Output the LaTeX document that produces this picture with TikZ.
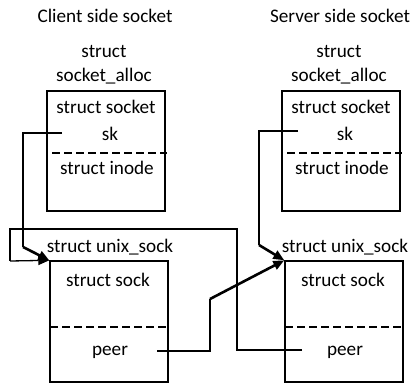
\documentclass[tikz,border=0pt]{standalone}
\usepackage{fontspec}
\setmainfont{Carlito}
\usepackage{tikz}
\usetikzlibrary{positioning, arrows.meta}

\begin{document}
\begin{tikzpicture}[x=1pt, y=-1pt,
  lbl/.style={inner sep=0pt, font=\fontsize{19.2}{24}\selectfont, align=center},
  sbox/.style={draw, line width=1.4pt, minimum width=118, minimum height=120, inner sep=0pt},
  sep/.style={dash pattern=on 8pt off 4pt, line width=2pt},
  ptr/.style={line width=1.3pt},
  tip/.style={line width=2.6pt, -{Triangle[length=11pt,width=9pt]}}
]
  \useasboundingbox (0,0) rectangle (414,383);
  \foreach \x/\s/\ttl in {0/c/Client, 235/s/Server}{
    \node[lbl] (\s-title) at (\x+105,16) {\ttl\ side socket};
    \node[lbl] (\s-allocname) at (\x+104,65) {struct\\socket\_alloc};
    \node[sbox] (\s-alloc) at (\x+106,151) {};
    \node[lbl] (\s-socket) at (\x+106,107) {struct socket};
    \node[lbl] (\s-sk) at (\x+110,134) {sk};
    \node[lbl] (\s-inode) at (\x+107,168) {struct inode};
    \draw[sep] (\x+52,153) -- (\x+167,153);
    % unix_sock
    \node[sbox, minimum height=121] (\s-usock) at (\x+109,321.5) {};
    \node[lbl] (\s-usockname) at (\x+110,247) {struct unix\_sock};
    \node[lbl] (\s-sock) at (\x+108,280) {struct sock};
    \node[lbl] (\s-peer) at (\x+110,352) {peer};
    \draw[sep] (\x+50,327) -- (\x+167,327);
  }
  \coordinate (c-skp) at (62,133);
  \coordinate (s-skp) at (298,131);
  \coordinate (c-peerp) at (157,351);
  \coordinate (s-peerp) at (302,350);
  % sk -> own unix_sock
  \draw[ptr] (c-skp) -- (23,133) -- (23,247);
  \draw[tip] (23,247) -- (c-usock.north west);
  \draw[ptr] (s-skp) -- (259,131) -- (259,245);
  \draw[tip] (259,245) -- (s-usock.north west);
  % peer -> other unix_sock
  \draw[ptr] (c-peerp) -- (210,351) -- (210,299);
  \draw[tip] (210,299) -- (s-usock.north west);
  \draw[ptr] (s-peerp) -- (237,350) -- (237,229) -- (10,229) -- (10,261);
  \draw[ptr, -{Triangle[length=11pt,width=9pt]}] (10,261) -- (c-usock.north west);
\end{tikzpicture}
\end{document}
